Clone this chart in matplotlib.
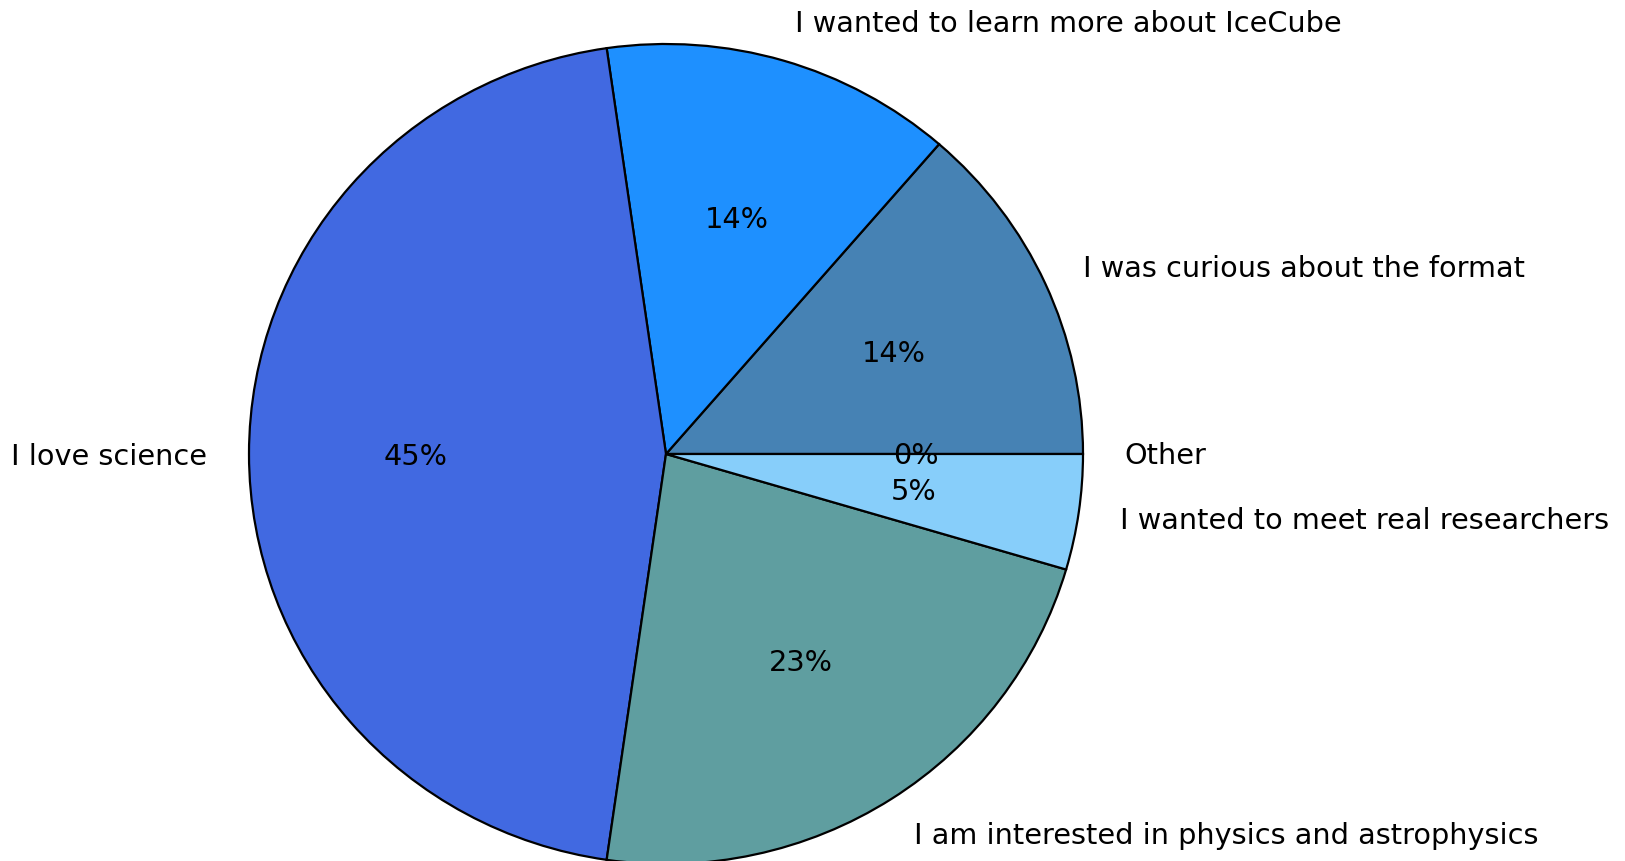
import matplotlib
matplotlib.use("Agg")
import matplotlib.pyplot as plt

# survey answers (number of respondents)
labels = ["Other",
          "I was curious about the format",
          "I wanted to learn more about IceCube",
          "I love science",
          "I am interested in physics and astrophysics",
          "I wanted to meet real researchers"]
counts = [0, 3, 3, 10, 5, 1]
colors = ["lightsteelblue", "steelblue", "dodgerblue", "royalblue", "cadetblue", "lightskyblue"]

W, H = 1625, 861
fig = plt.figure(figsize=(W / 100, H / 100), dpi=100)

# place the axes so the pie sits where it does in the picture
# (the reference pie is a touch wider than tall)
cx, cy, rx, ry = 666, 861 - 454, 417, 410
ax_w, ax_h = 1.58, 1.05   # half-extent of axes in data units
ax = fig.add_axes([(cx - rx * ax_w) / W, (cy - ry * ax_h) / H,
                   2 * rx * ax_w / W, 2 * ry * ax_h / H])

_, texts, autotexts = ax.pie(counts, labels=labels, colors=colors, autopct='%1.0f%%',
                             wedgeprops={'edgecolor': 'black', 'linewidth': 1.6},
                             textprops={'fontsize': 20.7})
ax.set_xlim(-ax_w, ax_w)
ax.set_ylim(-ax_h, ax_h)
ax.set_aspect('auto')

# text in the reference sits a couple of pixels lower
for t in list(texts) + list(autotexts):
    x, y = t.get_position()
    t.set_position((x, y - 2.5 / ry))

fig.savefig('out.png', dpi=100)
